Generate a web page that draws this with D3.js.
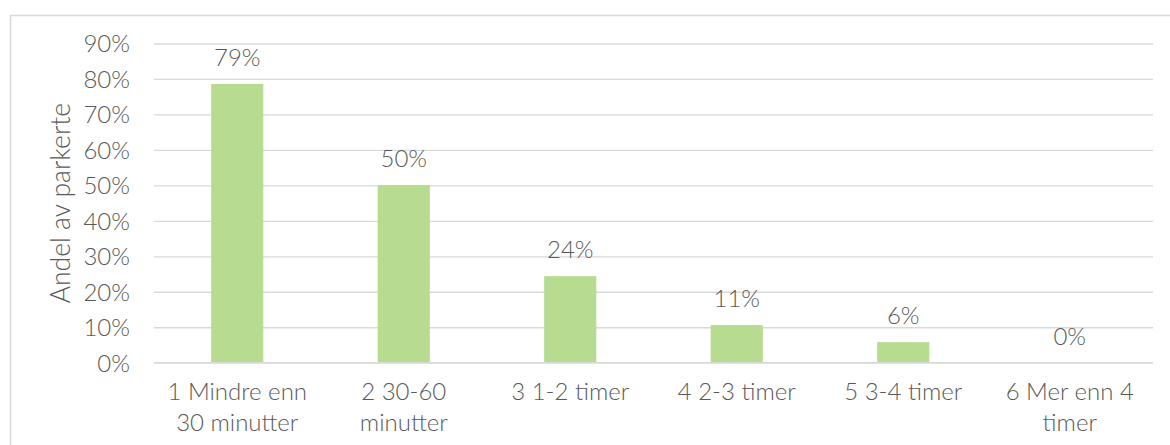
<!DOCTYPE html>
<html>
<head>
<meta charset="utf-8">
<script src="https://cdn.jsdelivr.net/npm/d3@7"></script>
<style>
  html, body { margin: 0; padding: 0; background: #fff; }
  svg { display: block; font-family: Lato, "Noto Sans", sans-serif; font-weight: 300; }
</style>
</head>
<body>
<svg id="chart" width="1170" height="445"></svg>
<script>
// Parking duration categories and share of parked vehicles
const categories = [
  "1 Mindre enn 30 minutter",
  "2 30-60 minutter",
  "3 1-2 timer",
  "4 2-3 timer",
  "5 3-4 timer",
  "6 Mer enn 4 timer"
];
const shares = [0.786, 0.501, 0.244, 0.106, 0.058, 0.0];
const yTicks = [0, 0.1, 0.2, 0.3, 0.4, 0.5, 0.6, 0.7, 0.8, 0.9];
const yTitle = "Andel av parkerte";

const W = 1170, H = 445;
const plot = { left: 154, right: 1153, top: 43.5, bottom: 362.7 };
const textColor = "#595959";
const gridColor = "#d9d9d9";
const barColor = "#b7db8f";
const fontSize = 24;
const titleSize = 26.5;

const svg = d3.select("#chart");

// Chart frame (top and left edges visible)
svg.append("path")
  .attr("d", `M10.5,${H + 5} V15.5 H${W + 5}`)
  .attr("fill", "none")
  .attr("stroke", gridColor)
  .attr("stroke-width", 1.5);

const x = d3.scaleBand()
  .domain(categories)
  .range([plot.left, plot.right])
  .padding(0);

const y = d3.scaleLinear()
  .domain([0, 0.9])
  .range([plot.bottom, plot.top]);

const barWidth = x.bandwidth() * 0.313;

// Horizontal gridlines
const yAxis = d3.axisLeft(y)
  .tickValues(yTicks)
  .tickFormat(d3.format(".0%"))
  .tickSize(-(plot.right - plot.left))
  .tickPadding(24);

const yg = svg.append("g")
  .attr("transform", `translate(${plot.left},0)`)
  .call(yAxis);
yg.select(".domain").remove();
yg.selectAll(".tick line")
  .attr("stroke", gridColor)
  .attr("stroke-width", 1.3);
yg.selectAll(".tick text")
  .attr("fill", textColor)
  .attr("font-size", fontSize)
  .attr("font-family", "Lato, 'Noto Sans', sans-serif")
  .attr("font-weight", 300)
  .attr("dy", "0.35em");

// Bars
svg.append("g")
  .selectAll("rect")
  .data(shares)
  .join("rect")
  .attr("x", (d, i) => x(categories[i]) + x.bandwidth() / 2 - barWidth / 2)
  .attr("y", d => y(d))
  .attr("width", barWidth)
  .attr("height", d => y(0) - y(d))
  .attr("fill", barColor);

// Baseline redrawn over bars
svg.append("line")
  .attr("x1", plot.left).attr("x2", plot.right)
  .attr("y1", y(0)).attr("y2", y(0))
  .attr("stroke", gridColor)
  .attr("stroke-width", 1.3);

// Value labels
const fmt = d3.format(".0%");
svg.append("g")
  .selectAll("text")
  .data(shares)
  .join("text")
  .attr("x", (d, i) => x(categories[i]) + x.bandwidth() / 2)
  .attr("y", d => y(d) - 18)
  .attr("text-anchor", "middle")
  .attr("fill", textColor)
  .attr("font-size", fontSize)
  .text(d => fmt(d));

// Category labels, wrapped to the band width
const measure = svg.append("text").attr("font-size", fontSize).attr("visibility", "hidden");
function wrap(label, maxW) {
  const words = label.split(" ");
  const lines = [];
  let cur = "";
  words.forEach(w => {
    const test = cur ? cur + " " + w : w;
    measure.text(test);
    if (cur && measure.node().getComputedTextLength() > maxW) {
      lines.push(cur);
      cur = w;
    } else {
      cur = test;
    }
  });
  if (cur) lines.push(cur);
  return lines;
}

const xl = svg.append("g");
categories.forEach(c => {
  const lines = wrap(c, 155);
  const t = xl.append("text")
    .attr("x", x(c) + x.bandwidth() / 2)
    .attr("y", 400)
    .attr("text-anchor", "middle")
    .attr("fill", textColor)
    .attr("font-size", fontSize);
  lines.forEach((ln, i) => {
    t.append("tspan")
      .attr("x", x(c) + x.bandwidth() / 2)
      .attr("y", 400 + i * 30.5)
      .text(ln);
  });
});
measure.remove();

// Y axis title
svg.append("text")
  .attr("transform", `translate(70,${(plot.top + plot.bottom) / 2}) rotate(-90)`)
  .attr("text-anchor", "middle")
  .attr("fill", textColor)
  .attr("font-size", titleSize)
  .text(yTitle);
</script>
</body>
</html>
